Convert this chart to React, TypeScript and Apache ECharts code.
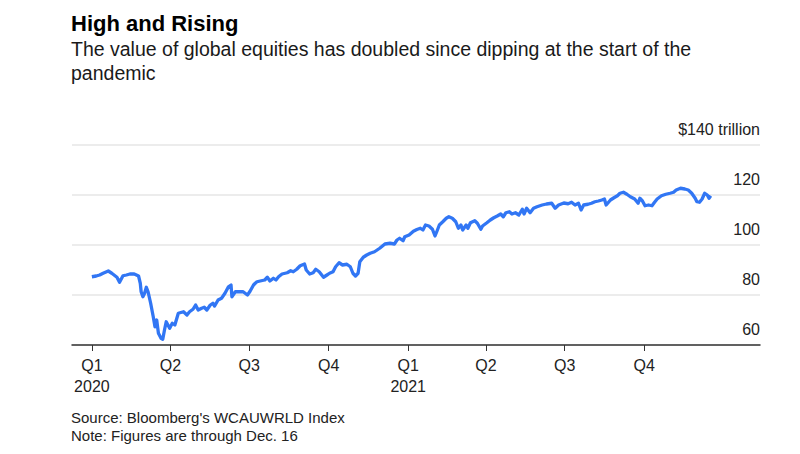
import React, { useEffect, useRef } from "react";
import * as echarts from "echarts";

const dates: string[] = [
  "2020-01-01","2020-01-06","2020-01-10","2020-01-14","2020-01-20","2020-01-24","2020-01-30","2020-02-02","2020-02-06","2020-02-10",
  "2020-02-14","2020-02-19","2020-02-24","2020-02-26","2020-02-27","2020-02-29","2020-03-02","2020-03-04","2020-03-06","2020-03-09",
  "2020-03-12","2020-03-14","2020-03-16","2020-03-18","2020-03-21","2020-03-23","2020-03-25","2020-03-27","2020-03-29","2020-03-31",
  "2020-04-03","2020-04-06","2020-04-10","2020-04-16","2020-04-20","2020-04-23","2020-04-27","2020-04-30","2020-05-03","2020-05-07",
  "2020-05-10","2020-05-13","2020-05-17","2020-05-20","2020-05-22","2020-05-26","2020-05-30","2020-06-03","2020-06-07","2020-06-10",
  "2020-06-11","2020-06-15","2020-06-20","2020-06-24","2020-06-29","2020-07-02","2020-07-06","2020-07-08","2020-07-10","2020-07-15",
  "2020-07-19","2020-07-22","2020-07-25","2020-07-29","2020-08-01","2020-08-04","2020-08-08","2020-08-14","2020-08-18","2020-08-21",
  "2020-08-25","2020-08-29","2020-09-03","2020-09-05","2020-09-09","2020-09-13","2020-09-16","2020-09-20","2020-09-25","2020-09-29",
  "2020-10-02","2020-10-06","2020-10-09","2020-10-13","2020-10-17","2020-10-22","2020-10-26","2020-10-29","2020-11-01","2020-11-04",
  "2020-11-06","2020-11-10","2020-11-14","2020-11-18","2020-11-23","2020-11-29","2020-12-05","2020-12-11","2020-12-16","2020-12-19",
  "2020-12-22","2020-12-26","2020-12-28","2021-01-02","2021-01-07","2021-01-11","2021-01-15","2021-01-18","2021-01-21","2021-01-25",
  "2021-01-29","2021-02-01","2021-02-03","2021-02-06","2021-02-10","2021-02-14","2021-02-17","2021-02-21","2021-02-25","2021-02-28",
  "2021-03-03","2021-03-05","2021-03-09","2021-03-11","2021-03-14","2021-03-19","2021-03-22","2021-03-26","2021-03-28","2021-04-02",
  "2021-04-06","2021-04-10","2021-04-14","2021-04-18","2021-04-21","2021-04-24","2021-04-28","2021-05-01","2021-05-05","2021-05-09",
  "2021-05-13","2021-05-15","2021-05-18","2021-05-22","2021-05-26","2021-05-30","2021-06-05","2021-06-10","2021-06-16","2021-06-20",
  "2021-06-24","2021-06-30","2021-07-05","2021-07-09","2021-07-13","2021-07-17","2021-07-20","2021-07-23","2021-07-28","2021-08-01",
  "2021-08-05","2021-08-09","2021-08-13","2021-08-16","2021-08-18","2021-08-23","2021-08-27","2021-08-31","2021-09-03","2021-09-07",
  "2021-09-11","2021-09-15","2021-09-20","2021-09-24","2021-09-26","2021-09-29","2021-10-02","2021-10-06","2021-10-10","2021-10-13",
  "2021-10-16","2021-10-21","2021-10-26","2021-10-31","2021-11-04","2021-11-07","2021-11-12","2021-11-17","2021-11-21","2021-11-25",
  "2021-11-29","2021-12-01","2021-12-04","2021-12-07","2021-12-10","2021-12-13","2021-12-15","2021-12-17"
];

const values: number[] = [
  87.3,87.6,88.0,88.7,89.6,88.7,87.1,85.1,87.7,88.0,
  88.4,88.4,87.6,84.7,81.3,79.3,80.7,83.1,81.3,76.7,
  71.3,67.3,70.0,64.7,62.7,62.3,66.0,69.3,68.0,66.7,
  68.7,68.0,72.7,73.3,72.0,73.3,74.3,76.0,74.0,74.7,
  75.1,74.0,76.0,76.7,75.6,78.0,78.7,80.7,83.3,84.0,
  79.3,81.3,81.3,81.3,80.0,81.5,84.0,84.7,85.3,85.7,
  86.0,87.1,85.6,86.7,86.0,87.3,88.4,88.9,89.7,89.3,
  90.3,91.7,92.4,90.0,88.4,88.9,90.3,89.3,87.1,88.0,
  88.7,89.3,91.3,92.9,92.0,92.3,91.3,88.7,87.6,88.7,
  93.3,95.1,96.0,96.7,97.3,98.7,100.4,100.7,100.4,102.0,
  102.7,101.7,103.3,104.0,105.5,106.2,106.7,106.0,108.0,107.6,
  106.3,103.6,105.3,108.0,109.3,110.7,111.3,110.7,109.3,106.7,
  108.0,106.0,108.0,106.7,108.9,109.7,108.7,106.3,107.6,108.9,
  110.0,110.9,111.6,112.4,111.3,112.9,113.3,112.4,112.9,112.0,
  114.3,112.4,114.7,112.9,114.7,115.3,116.0,116.4,116.7,114.7,
  116.0,116.8,116.5,117.1,116.0,116.7,114.0,116.0,116.3,116.7,
  117.3,117.6,118.0,118.4,116.0,118.0,118.9,119.7,120.7,121.1,
  120.3,119.3,118.4,116.7,118.7,117.6,115.7,116.0,115.7,117.1,
  118.4,119.7,120.3,120.7,121.1,122.0,122.7,122.4,122.0,120.7,
  118.7,117.3,117.1,118.4,120.7,120.0,118.7,119.7
];

const quarterTicks: string[] = [
  "2020-01-01","2020-04-01","2020-07-01","2020-10-01",
  "2021-01-01","2021-04-01","2021-07-01","2021-10-01"
];

const titleText = "High and Rising";
const subtitleLines = [
  "The value of global equities has doubled since dipping at the start of the",
  "pandemic",
];
const footerLines = [
  "Source: Bloomberg's WCAUWRLD Index",
  "Note: Figures are through Dec. 16",
];

const toTs = (s: string) => {
  const [y, m, d] = s.split("-").map(Number);
  return new Date(y, m - 1, d).getTime();
};

const FONT = "'Liberation Sans', Arial, Helvetica, sans-serif";

export default function App() {
  const ref = useRef<HTMLDivElement>(null);
  useEffect(() => {
    document.body.style.margin = "0";
    if (!ref.current) return;
    const chart = echarts.init(ref.current, null, { renderer: "svg" });
    const tickVals = quarterTicks.map(toTs);
    chart.setOption({
      animation: false,
      backgroundColor: "#ffffff",
      textStyle: { fontFamily: FONT },
      grid: { left: 72, right: 40, top: 145, bottom: 109 },
      xAxis: {
        type: "value",
        min: toTs("2019-12-09"),
        max: toTs("2022-02-12"),
        axisLine: { show: true, lineStyle: { color: "#333333", width: 1.5 } },
        axisTick: {
          show: true,
          length: 6,
          customValues: tickVals,
          lineStyle: { color: "#333333", width: 1 },
        },
        axisLabel: {
          customValues: tickVals,
          color: "#222222",
          fontSize: 16,
          fontFamily: FONT,
          lineHeight: 21,
          margin: 10,
          formatter: (v: number) => {
            const d = new Date(v);
            const q = Math.floor(d.getMonth() / 3) + 1;
            return q === 1 ? `Q1\n${d.getFullYear()}` : `Q${q}`;
          },
        },
        splitLine: { show: false },
      },
      yAxis: {
        type: "value",
        position: "right",
        min: 60,
        max: 140,
        interval: 20,
        axisLine: { show: false },
        axisTick: { show: false },
        axisLabel: {
          inside: true,
          margin: 0,
          verticalAlign: "bottom",
          color: "#222222",
          fontSize: 16,
          fontFamily: FONT,
          padding: [0, 0, 8, 0],
          formatter: (v: number) => (v === 140 ? "$140 trillion" : String(v)),
        },
        splitLine: { show: true, lineStyle: { color: "#e6e6e6", width: 1.5 } },
      },
      series: [
        {
          type: "line",
          data: dates.map((d, i) => [toTs(d), values[i]]),
          symbol: "none",
          lineStyle: { color: "#3176f4", width: 3.3, join: "round" },
          z: 3,
        },
      ],
      graphic: [
        {
          type: "text",
          left: 71,
          top: 12,
          style: { text: titleText, font: `bold 22px ${FONT}`, fill: "#000000" },
        },
        {
          type: "text",
          left: 71,
          top: 37,
          style: {
            text: subtitleLines.join("\n"),
            font: `19.5px ${FONT}`,
            lineHeight: 24,
            fill: "#1a1a1a",
          },
        },
        {
          type: "text",
          left: 71,
          top: 408,
          style: {
            text: footerLines.join("\n"),
            font: `15px ${FONT}`,
            lineHeight: 18,
            fill: "#222222",
          },
        },
      ],
    });
    return () => chart.dispose();
  }, []);
  return <div ref={ref} style={{ width: 800, height: 454 }} />;
}
